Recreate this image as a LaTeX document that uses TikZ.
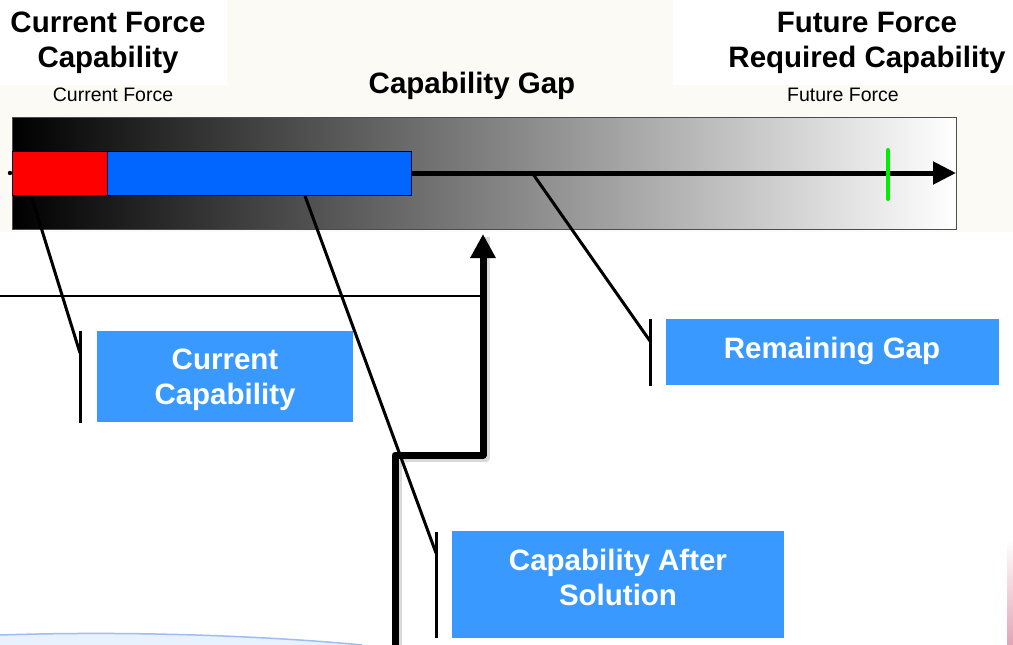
\documentclass[tikz,border=0pt]{standalone}
\usepackage{fontspec}
\setmainfont{Liberation Sans}
\usetikzlibrary{arrows.meta}
\definecolor{beige}{HTML}{FCFAF5}
\definecolor{boxblue}{HTML}{3999FF}
\definecolor{barblue}{HTML}{0066FF}
\definecolor{tickgreen}{HTML}{00EE00}
\definecolor{curvefill}{HTML}{E8F1FE}
\definecolor{curveline}{HTML}{9BBEF5}
\definecolor{edgepink}{HTML}{E2A3B5}
\begin{document}
\begin{tikzpicture}[x=1pt,y=-1pt,
  title/.style={font=\fontsize{29.5}{35}\selectfont\bfseries, align=center, inner sep=0pt},
  sub/.style={font=\fontsize{19.5}{23}\selectfont, inner sep=0pt},
  cbox/.style={fill=boxblue, inner sep=0pt},
  boxtext/.style={text=white, font=\fontsize{29.5}{35}\selectfont\bfseries, align=center, inner sep=0pt},
  callout/.style={line width=3pt},
  bigarrow/.style={line width=7pt, line join=round, -{Triangle[length=24pt,width=24pt]}},
  lvl/.style={draw=black!80!blue, line width=0.8pt, inner sep=0pt, minimum height=44pt}
]
\useasboundingbox (0,0) rectangle (1013,645);
% background
\fill[white] (0,0) rectangle (1013,645);
\fill[beige] (0,0) rectangle (1013,232);
\fill[white] (0,0) rectangle (227,85);
\fill[white] (673,0) rectangle (1013,85);
\fill[curvefill] (0,635) .. controls (150,630) and (290,638) .. (362,645) -- (0,645) -- cycle;
\draw[curveline, line width=1.5pt] (0,635) .. controls (150,630) and (290,638) .. (362,645);
\shade[top color=white, bottom color=edgepink] (1007,540) rectangle (1013,645);

% titles
\node[title] (t1) at (108,43) {Current Force\\Capability};
\node[title] (t2) at (867,43) {Future Force\\Required Capability};
\node[title] (t3) at (472,86) {Capability Gap};
\node[sub] (s1) at (113,95) {Current Force};
\node[sub] (s2) at (843,95) {Future Force};

% gradient bar
\node[minimum width=944pt, minimum height=112pt, inner sep=0pt, left color=black, right color=white, draw=black!70, line width=1pt] (bar) at (484,173) {};
\node[lvl, fill=red, minimum width=95pt] (red) at (59.5,173) {};
\node[lvl, fill=barblue, minimum width=304pt] (blue) at (259,173) {};
\fill (10,173) circle (2.2);
\coordinate (axend) at (956,173);
\draw[line width=5pt, -{Triangle[length=23pt,width=22pt]}] (blue.east) -- (axend);
\coordinate (g1) at (888,150);
\coordinate (g2) at (888,199);
\draw[tickgreen, line width=4pt, line cap=round] (g1) -- (g2);

% thin horizontal line
\coordinate (h0) at (0,296);
\coordinate (h1) at (483,296);
\draw[line width=2pt] (h0) -- (h1);

% thick stepped arrow
\coordinate (p0) at (395,648);
\coordinate (p1) at (395,455);
\coordinate (p2) at (483,455);
\coordinate (p3) at (483,234);
\draw[line width=7pt, line join=round, black, opacity=0.15] ([shift={(3,3)}]p0) -- ([shift={(3,3)}]p1) -- ([shift={(3,3)}]p2) -- ([shift={(3,3)}]p3);
\draw[bigarrow] (p0) -- (p1) -- (p2) -- (p3);

% boxes
\node[cbox, minimum width=256pt, minimum height=91pt] (cc) at (225,376.5) {};
\node[boxtext] (cctext) at (225,380) {Current\\Capability};
\node[cbox, minimum width=332pt, minimum height=107pt] (cas) at (618,584.5) {};
\node[boxtext] (castext) at (618,577) {Capability After\\Solution};
\node[cbox, minimum width=333pt, minimum height=66pt] (rg) at (832.5,352) {};
\node[boxtext] (rgtext) at (832,351) {Remaining Gap};

% callouts
\coordinate (c1s) at (31,195);
\coordinate (c1e) at (80,353);
\coordinate (c1t) at (80,331);
\coordinate (c1b) at (80,423);
\draw[callout] (c1s) -- (c1e);
\draw[callout] (c1t) -- (c1b);
\coordinate (c2s) at (305,196);
\coordinate (c2e) at (436,553);
\coordinate (c2t) at (436,532);
\coordinate (c2b) at (436,638);
\draw[callout] (c2s) -- (c2e);
\draw[callout] (c2t) -- (c2b);
\coordinate (c3s) at (533,174);
\coordinate (c3e) at (650,341);
\coordinate (c3t) at (650,319);
\coordinate (c3b) at (650,386);
\draw[callout] (c3s) -- (c3e);
\draw[callout] (c3t) -- (c3b);
\end{tikzpicture}
\end{document}
